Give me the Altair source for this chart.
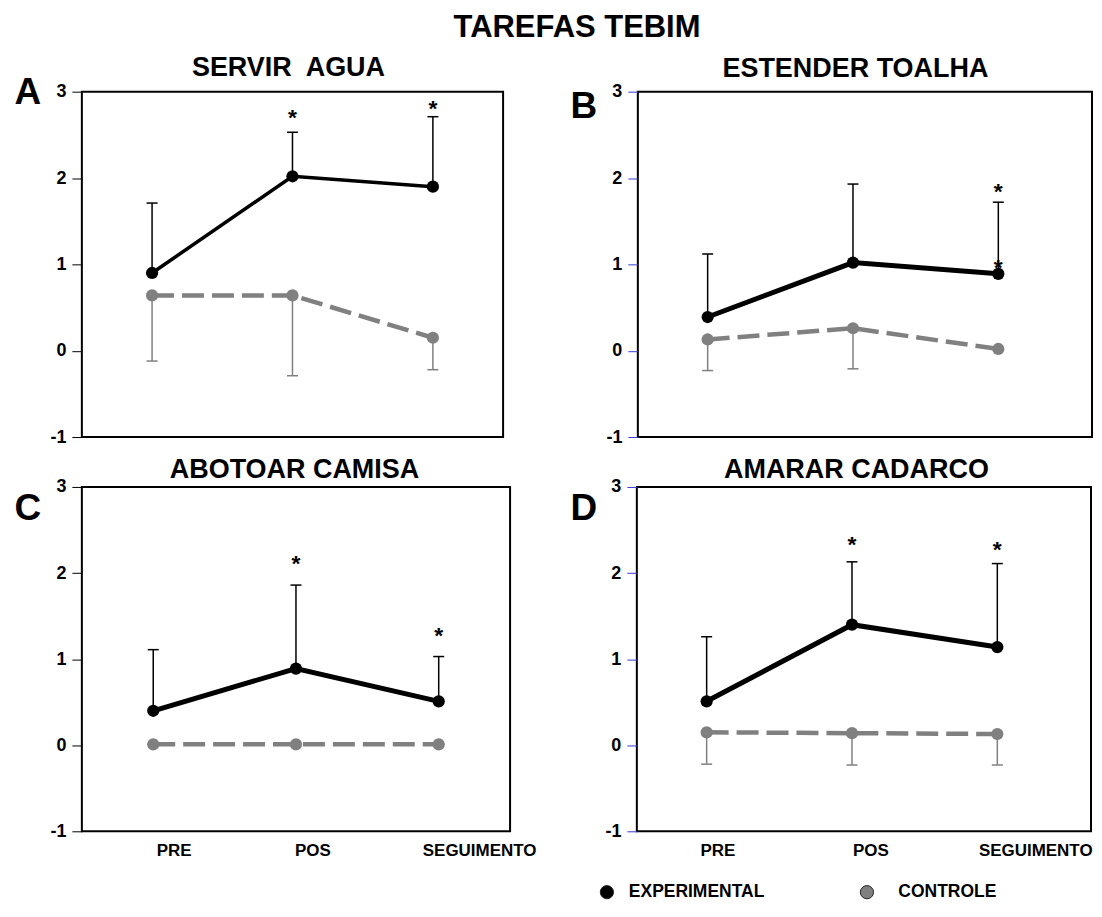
import altair as alt
import pandas as pd

FONT = "Liberation Sans"

phases = ["PRE", "POS", "SEGUIMENTO"]
groups = ["EXPERIMENTAL", "CONTROLE"]
group_colors = ["#000000", "#808080"]
main_title = "TAREFAS TEBIM"
panel_titles = ["SERVIR\u00a0 AGUA", "ESTENDER TOALHA", "ABOTOAR CAMISA", "AMARAR CADARCO"]
panel_letters = ["A", "B", "C", "D"]
y_ticks = [-1, 0, 1, 2, 3]

# A - SERVIR AGUA
exp_mean_a = [0.90, 2.02, 1.90]
exp_top_a = [1.71, 2.53, 2.71]
ctrl_mean_a = [0.64, 0.64, 0.15]
ctrl_bot_a = [-0.12, -0.29, -0.22]
star_phase_a = ["POS", "SEGUIMENTO"]
star_y_a = [2.75, 2.86]

# B - ESTENDER TOALHA
exp_mean_b = [0.39, 1.02, 0.89]
exp_top_b = [1.12, 1.93, 1.72]
ctrl_mean_b = [0.13, 0.26, 0.02]
ctrl_bot_b = [-0.23, -0.21, 0.02]
star_phase_b = ["SEGUIMENTO", "SEGUIMENTO"]
star_y_b = [1.90, 1.01]

# C - ABOTOAR CAMISA
exp_mean_c = [0.40, 0.89, 0.51]
exp_top_c = [1.11, 1.86, 1.03]
ctrl_mean_c = [0.01, 0.01, 0.01]
ctrl_bot_c = [0.01, 0.01, 0.01]
star_phase_c = ["POS", "SEGUIMENTO"]
star_y_c = [2.16, 1.33]

# D - AMARAR CADARCO
exp_mean_d = [0.51, 1.40, 1.14]
exp_top_d = [1.26, 2.13, 2.11]
ctrl_mean_d = [0.15, 0.14, 0.13]
ctrl_bot_d = [-0.22, -0.23, -0.23]
star_phase_d = ["POS", "SEGUIMENTO"]
star_y_d = [2.38, 2.32]

cscale = alt.Scale(domain=groups, range=group_colors)


def panel(title, letter, em, et, cm, cb, sp, sy, *, width, height, xscale,
          show_x, x_label_expr, tick_color, title_offset, title_dx,
          letter_x, letter_y, exp_width):
    df = pd.DataFrame({
        "fase": phases * 2,
        "grupo": [groups[0]] * 3 + [groups[1]] * 3,
        "media": em + cm,
        "limite": et + cb,
    })
    stars = pd.DataFrame({"fase": sp, "y": sy})

    if show_x:
        x_axis = alt.Axis(title=None, ticks=False, tickSize=0, domain=False, labelAngle=0,
                          labelFont=FONT, labelFontSize=17, labelFontWeight="bold",
                          labelColor="black", labelPadding=11.5,
                          labelOffset=alt.ExprRef(expr=x_label_expr))
    else:
        x_axis = None
    x = alt.X("fase:N", scale=xscale, axis=x_axis, title=None)

    yscale = alt.Scale(domain=[-1, 3], nice=False, zero=False)
    y_axis = alt.Axis(values=y_ticks, grid=False, domain=False,
                      tickSize=10, tickColor=tick_color, tickWidth=1,
                      labelFont=FONT, labelFontSize=18, labelFontWeight="bold",
                      labelColor="black", labelPadding=6,
                      labelExpr="'' + datum.value",
                      title=letter, titleAngle=0, titleFont=FONT,
                      titleFontSize=37, titleFontWeight="bold", titleColor="black",
                      titleAlign="left", titleBaseline="alphabetic",
                      titleX=letter_x, titleY=letter_y)

    base = alt.Chart(df)
    rules = base.mark_rule(strokeWidth=1.5).encode(
        x=x,
        y=alt.Y("media:Q", scale=yscale, axis=y_axis),
        y2="limite:Q",
        color=alt.Color("grupo:N", scale=cscale, legend=None),
    )
    caps = base.mark_tick(thickness=1.5, size=11, opacity=1).encode(
        x=x,
        y=alt.Y("limite:Q", scale=yscale, axis=y_axis),
        color=alt.Color("grupo:N", scale=cscale, legend=None),
    )
    ctrl_line = base.transform_filter(alt.datum.grupo == groups[1]).mark_line(
        color=group_colors[1], strokeWidth=4.5, strokeDash=[22, 8]
    ).encode(x=x, y=alt.Y("media:Q", scale=yscale, axis=y_axis))
    exp_line = base.transform_filter(alt.datum.grupo == groups[0]).mark_line(
        color=group_colors[0], strokeWidth=exp_width
    ).encode(x=x, y=alt.Y("media:Q", scale=yscale, axis=y_axis))
    points = base.mark_circle(size=150, opacity=1).encode(
        x=x,
        y=alt.Y("media:Q", scale=yscale, axis=y_axis),
        color=alt.Color("grupo:N", scale=cscale, legend=None),
    )
    star_marks = alt.Chart(stars).mark_text(
        text="*", font=FONT, fontSize=23, fontWeight="bold", color="black", dy=5
    ).encode(x=x, y=alt.Y("y:Q", scale=yscale, axis=y_axis))

    layers = [rules, caps, ctrl_line, exp_line, points, star_marks]
    return layers, dict(
        width=width, height=height,
        title=alt.TitleParams(text=title, font=FONT, fontSize=27, fontWeight="bold",
                              color="black", anchor="middle", baseline="alphabetic",
                              offset=title_offset, dx=title_dx),
    )


def legend_layers():
    leg = pd.DataFrame({"grupo": groups})
    lx = alt.X("grupo:N", axis=None,
               scale=alt.Scale(type="point", domain=groups, range=[-30, 230.5], padding=0))
    ly = alt.value(406)
    pts = alt.Chart(leg).mark_circle(size=175, opacity=1, stroke="#222222",
                                     strokeWidth=1).encode(
        x=lx, y=ly, color=alt.Color("grupo:N", scale=cscale, legend=None))
    txt_style = dict(align="left", baseline="middle", font=FONT, fontSize=17.5,
                     fontWeight="bold", color="black")
    t_exp = alt.Chart(leg).transform_filter(alt.datum.grupo == groups[0]).mark_text(
        dx=22, **txt_style).encode(x=lx, y=ly, text="grupo:N")
    t_ctl = alt.Chart(leg).transform_filter(alt.datum.grupo == groups[1]).mark_text(
        dx=31.5, **txt_style).encode(x=lx, y=ly, text="grupo:N")
    return [pts, t_exp, t_ctl]


scale_a = alt.Scale(type="point", domain=phases, padding=0.5)
scale_c = alt.Scale(type="point", domain=phases, padding=0.5)
scale_bd = alt.Scale(type="point", domain=phases, padding=0.5625, align=0.427)

la, pa_props = panel(panel_titles[0], panel_letters[0], exp_mean_a, exp_top_a, ctrl_mean_a,
                     ctrl_bot_a, star_phase_a, star_y_a, width=422, height=346, xscale=scale_a,
                     show_x=False, x_label_expr="0", tick_color="black", title_offset=-30,
                     title_dx=-4, letter_x=-68, letter_y=11.5, exp_width=3.5)
lb, pb_props = panel(panel_titles[1], panel_letters[1], exp_mean_b, exp_top_b, ctrl_mean_b,
                     ctrl_bot_b, star_phase_b, star_y_b, width=455, height=346, xscale=scale_bd,
                     show_x=False, x_label_expr="0", tick_color="#3a3ad0", title_offset=-21,
                     title_dx=-9.5, letter_x=-68, letter_y=25.5, exp_width=5)
lc, pc_props = panel(panel_titles[2], panel_letters[2], exp_mean_c, exp_top_c, ctrl_mean_c,
                     ctrl_bot_c, star_phase_c, star_y_c, width=429, height=345, xscale=scale_c,
                     show_x=True,
                     x_label_expr="datum.value == 'PRE' ? 20.5 : datum.value == 'POS' ? 16.5 : 40.5",
                     tick_color="black", title_offset=-27, title_dx=-1.5,
                     letter_x=-68, letter_y=32.5, exp_width=5)
ld, pd_props = panel(panel_titles[3], panel_letters[3], exp_mean_d, exp_top_d, ctrl_mean_d,
                     ctrl_bot_d, star_phase_d, star_y_d, width=455, height=345, xscale=scale_bd,
                     show_x=True,
                     x_label_expr="datum.value == 'PRE' ? 10.7 : datum.value == 'POS' ? 18.4 : 38",
                     tick_color="#3a3ad0", title_offset=-27, title_dx=-7.5,
                     letter_x=-67, letter_y=32.5, exp_width=5)

pa = alt.layer(*la).properties(**pa_props)
pb = alt.layer(*lb).properties(**pb_props)
pc = alt.layer(*lc).properties(**pc_props)
pd_ = alt.layer(alt.layer(*ld), alt.layer(*legend_layers())).resolve_scale(
    x="independent").properties(**pd_props)

row1 = alt.hconcat(pa, pb, spacing=65)
row2 = alt.hconcat(pc, pd_, spacing=32)

chart = alt.vconcat(row1, row2, spacing=8).properties(
    title=alt.TitleParams(text=main_title, font=FONT, fontSize=31, fontWeight="bold",
                          color="black", anchor="middle", baseline="alphabetic",
                          offset=-15, dx=24),
    padding={"left": 5, "top": 3, "right": 0, "bottom": 0},
    background="white",
).configure_view(stroke="black", strokeWidth=2)

chart.save("out.html", embed_options={"renderer": "svg", "actions": False})
